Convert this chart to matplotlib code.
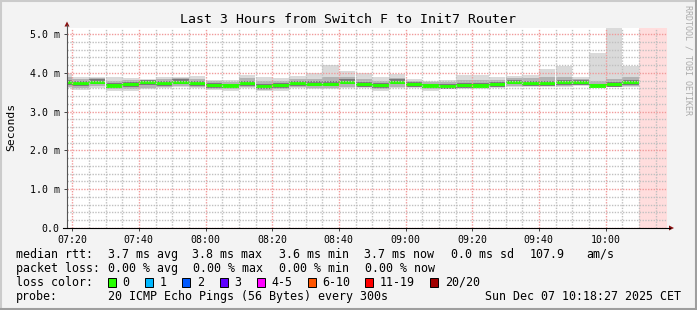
import numpy as np
import pandas as pd
import matplotlib
matplotlib.use("Agg")
import matplotlib.pyplot as plt
import matplotlib.dates as mdates
from matplotlib.patches import Rectangle, Polygon
from matplotlib.lines import Line2D
from matplotlib.ticker import MultipleLocator, FuncFormatter

# ---- data (ms), one value per 5 minute step, step end times 07:20 .. 10:10
times = pd.date_range("2025-12-07 07:20", "2025-12-07 10:10", freq="5min")
ping_max = [4.00, 3.88, 3.88, 3.90, 3.86, 3.83, 3.88, 3.88, 3.92, 3.81, 3.81, 3.94,
            3.88, 3.86, 3.92, 4.00, 4.20, 4.05, 4.00, 3.88, 3.97, 3.83, 3.79, 3.81,
            3.94, 3.94, 3.88, 3.92, 3.94, 4.10, 4.18, 3.88, 4.52, 5.30, 4.18]
ping_hi = [3.88, 3.84, 3.86, 3.80, 3.81, 3.82, 3.85, 3.86, 3.84, 3.78, 3.77, 3.86,
           3.79, 3.80, 3.85, 3.84, 3.88, 3.90, 3.84, 3.79, 3.87, 3.79, 3.76, 3.76,
           3.82, 3.81, 3.82, 3.86, 3.86, 3.88, 3.88, 3.83, 3.80, 3.84, 3.88]
ping_in_hi = [3.81, 3.80, 3.83, 3.73, 3.77, 3.82, 3.79, 3.83, 3.79, 3.75, 3.72, 3.80,
              3.71, 3.75, 3.80, 3.78, 3.78, 3.83, 3.77, 3.74, 3.83, 3.76, 3.72, 3.71,
              3.74, 3.73, 3.77, 3.82, 3.80, 3.80, 3.82, 3.81, 3.72, 3.76, 3.82]
median = [3.74, 3.73, 3.76, 3.66, 3.70, 3.75, 3.72, 3.76, 3.72, 3.68, 3.66, 3.73,
          3.64, 3.68, 3.73, 3.71, 3.71, 3.76, 3.70, 3.68, 3.76, 3.70, 3.66, 3.64,
          3.67, 3.66, 3.70, 3.76, 3.73, 3.73, 3.75, 3.75, 3.66, 3.70, 3.75]
ping_in_lo = [3.68, 3.66, 3.70, 3.60, 3.64, 3.69, 3.66, 3.70, 3.66, 3.62, 3.60, 3.67,
              3.58, 3.62, 3.67, 3.65, 3.65, 3.70, 3.64, 3.62, 3.70, 3.64, 3.60, 3.59,
              3.61, 3.60, 3.64, 3.70, 3.67, 3.67, 3.69, 3.69, 3.60, 3.64, 3.69]
ping_lo = [3.64, 3.61, 3.65, 3.57, 3.58, 3.62, 3.64, 3.67, 3.63, 3.58, 3.57, 3.63,
           3.56, 3.58, 3.63, 3.60, 3.61, 3.64, 3.63, 3.58, 3.64, 3.63, 3.57, 3.59,
           3.60, 3.60, 3.63, 3.66, 3.66, 3.66, 3.67, 3.68, 3.64, 3.64, 3.66]
ping_min = [3.60, 3.56, 3.60, 3.54, 3.54, 3.57, 3.60, 3.63, 3.60, 3.55, 3.54, 3.60,
            3.54, 3.54, 3.60, 3.57, 3.57, 3.60, 3.60, 3.54, 3.60, 3.60, 3.54, 3.57,
            3.57, 3.57, 3.60, 3.63, 3.63, 3.63, 3.63, 3.65, 3.63, 3.63, 3.63]
loss = [0] * 35

loss_labels = ["0", "1", "2", "3", "4-5", "6-10", "11-19", "20/20"]
loss_colors = ["#26ff00", "#00b8ff", "#0059ff", "#5e00ff", "#ff00ff", "#ff5500", "#ff0000", "#a10000"]

t_start = pd.Timestamp("2025-12-07 07:18:27")
t_end = pd.Timestamp("2025-12-07 10:18:27")

W, H = 697, 310
MONO = "DejaVu Sans Mono"


def fx(x):
    return x / W


def fy(y):
    return 1 - y / H


fig = plt.figure(figsize=(W / 100, H / 100), dpi=100, facecolor="#f3f3f3")
ax = fig.add_axes([fx(67), fy(228), 600 / W, 200 / H])
ax.set_facecolor("white")

step = 5 / 1440.0
left = mdates.date2num(times.to_pydatetime()) - step
ymin = np.array(ping_min)
ax.bar(left, np.array(ping_max) - ymin, bottom=ymin, width=step, align="edge",
       color="#dadada", linewidth=0, zorder=1)
ax.bar(left, np.array(ping_hi) - np.array(ping_lo), bottom=ping_lo, width=step,
       align="edge", color="#b3b3b3", linewidth=0, zorder=1.1)
ax.bar(left, np.array(ping_in_hi) - np.array(ping_in_lo), bottom=ping_in_lo, width=step,
       align="edge", color="#7a7a7a", linewidth=0, zorder=1.2)
med_col = [loss_colors[0] if l == 0 else loss_colors[-1] for l in loss]
ax.bar(left, 0.078, bottom=np.array(median) - 0.039, width=step, align="edge",
       color=med_col, linewidth=0, zorder=1.3)

# unknown data at the end
ax.axvspan(mdates.date2num(times[-1].to_pydatetime()), mdates.date2num(t_end.to_pydatetime()),
           color="#ffdddd", linewidth=0, zorder=0.5)

ax.set_xlim(t_start, t_end)
ax.set_ylim(0, 5.155)

ax.xaxis.set_major_locator(mdates.MinuteLocator(byminute=[0, 20, 40]))
ax.xaxis.set_minor_locator(mdates.MinuteLocator(byminute=range(0, 60, 5)))
ax.xaxis.set_major_formatter(mdates.DateFormatter("%H:%M"))
ax.yaxis.set_major_locator(MultipleLocator(1.0))
ax.yaxis.set_minor_locator(MultipleLocator(0.2))
ax.yaxis.set_major_formatter(FuncFormatter(lambda v, p: "0.0" if v == 0 else f"{v:.1f} m"))

ax.set_axisbelow(False)
ax.grid(which="minor", color="#c0c0c0", linestyle=(0, (1, 1)), linewidth=1.0)
ax.grid(which="major", color="#f09a9a", linestyle=(0, (1, 1)), linewidth=1.0)

for s in ax.spines.values():
    s.set_visible(False)
ax.tick_params(which="major", length=2, width=0.7, color="#444444", direction="out",
               labelsize=7.1, pad=3.2)
ax.tick_params(which="minor", length=0)
for lab in ax.get_xticklabels() + ax.get_yticklabels():
    lab.set_fontfamily(MONO)

# axes lines and arrows
fig.add_artist(Line2D([fx(67), fx(67)], [fy(228), fy(25)], color="#555555", lw=0.8))
fig.add_artist(Line2D([fx(63), fx(670)], [fy(228), fy(228)], color="black", lw=0.8))
fig.add_artist(Polygon([(fx(64.5), fy(26.5)), (fx(69.5), fy(26.5)), (fx(67), fy(21.5))],
                       closed=True, color="#8b1010", lw=0))
fig.add_artist(Polygon([(fx(669), fy(225.5)), (fx(669), fy(230.5)), (fx(674), fy(228))],
                       closed=True, color="#8b1010", lw=0))

# frame
fig.add_artist(Line2D([0, 1], [fy(0.5), fy(0.5)], color="#cbcbcb", lw=1.5))
fig.add_artist(Line2D([fx(0.5), fx(0.5)], [0, 1], color="#cbcbcb", lw=1.5))
fig.add_artist(Line2D([0, 1], [fy(309), fy(309)], color="#9e9e9e", lw=1.5))
fig.add_artist(Line2D([fx(696), fx(696)], [0, 1], color="#9e9e9e", lw=1.5))

fig.text(fx(347.5), fy(19.3), "Last 3 Hours from Switch F to Init7 Router",
         ha="center", va="center", fontsize=9.5, family=MONO, color="black")
fig.text(fx(11), fy(127), "Seconds", rotation=90, ha="center", va="center",
         fontsize=8.2, family=MONO)
fig.text(fx(687.7), fy(60), "RRDTOOL / TOBI OETIKER", rotation=270, ha="center",
         va="center", fontsize=6, family=MONO, color="#ababab")

fs = 8.4
rows = [
    (254.3, [("median rtt:", 16), ("3.7 ms avg", 107.6), ("3.8 ms max", 192.4),
             ("3.6 ms min", 279), ("3.7 ms now", 364.4), ("0.0 ms sd", 451),
             ("107.9", 530), ("am/s", 585.8)]),
    (268.3, [("packet loss:", 16), ("0.00 % avg", 107.6), ("0.00 % max", 193.3),
             ("0.00 % min", 279), ("0.00 % now", 365.3)]),
    (282.3, [("loss color:", 16)]),
    (296.3, [("probe:", 16), ("20 ICMP Echo Pings (56 Bytes) every 300s", 107.6)]),
]
for y, items in rows:
    for txt, x in items:
        fig.text(fx(x), fy(y), txt, ha="left", va="center", fontsize=fs, family=MONO)
fig.text(fx(681), fy(296.3), "Sun Dec 07 10:18:27 2025 CET", ha="right", va="center",
         fontsize=fs, family=MONO)

sw_x = [108, 145.3, 182.2, 219.6, 256.9, 307.6, 365.3, 430.2]
for x, lab, col in zip(sw_x, loss_labels, loss_colors):
    fig.add_artist(Rectangle((fx(x), fy(286.8)), 8 / W, 9 / H, facecolor=col,
                             edgecolor="black", lw=0.7))
    fig.text(fx(x + 14.7), fy(282.3), lab, ha="left", va="center", fontsize=fs, family=MONO)

fig.savefig("out.png", dpi=100, facecolor=fig.get_facecolor())
